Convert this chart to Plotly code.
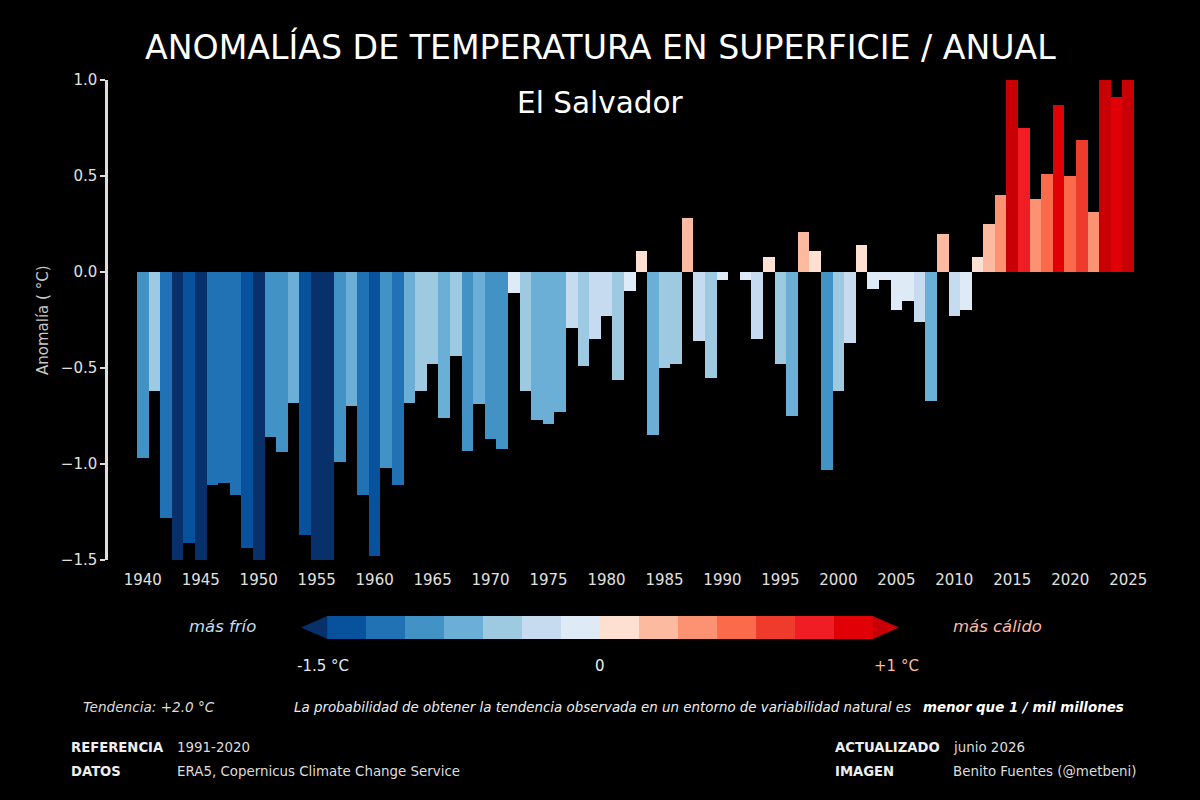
import plotly.graph_objects as go
import numpy as np

# ---------------- data ----------------
years = list(range(1940, 2026))
anomalies = [
    -0.97, -0.62, -1.28, -1.60, -1.41, -1.58, -1.11, -1.10, -1.16, -1.44,   # 1940-1949
    -1.55, -0.86, -0.94, -0.68, -1.37, -1.62, -1.57, -0.99, -0.70, -1.16,   # 1950-1959
    -1.48, -1.02, -1.11, -0.68, -0.62, -0.48, -0.76, -0.44, -0.93, -0.69,   # 1960-1969
    -0.87, -0.92, -0.11, -0.62, -0.77, -0.79, -0.73, -0.29, -0.49, -0.35,   # 1970-1979
    -0.23, -0.56, -0.10, 0.11, -0.85, -0.50, -0.48, 0.28, -0.36, -0.55,     # 1980-1989
    -0.04, 0.00, -0.04, -0.35, 0.08, -0.48, -0.75, 0.21, 0.11, -1.03,       # 1990-1999
    -0.62, -0.37, 0.14, -0.09, -0.04, -0.20, -0.15, -0.26, -0.67, 0.20,     # 2000-2009
    -0.23, -0.20, 0.08, 0.25, 0.40, 1.08, 0.75, 0.38, 0.51, 0.87,           # 2010-2019
    0.50, 0.69, 0.31, 1.12, 0.91, 1.05,                                      # 2020-2025
]
x_tick_years = list(range(1940, 2026, 5))
y_tick_vals = [-1.5, -1.0, -0.5, 0.0, 0.5, 1.0]
y_tick_text = ["\u22121.5", "\u22121.0", "\u22120.5", "0.0", "0.5", "1.0"]

scale_min, scale_max = -1.5, 1.0
bins_per_side = 7
neg_colors = ["#08519c", "#2171b5", "#4292c6", "#6baed6", "#9ecae1", "#c6dbef", "#deebf7"]
pos_colors = ["#fee0d2", "#fcbba1", "#fc9272", "#fb6a4a", "#ef3b2c", "#f01d24", "#e00006"]
under_color = "#08306b"
over_color = "#c80006"

# ---------------- helpers ----------------
W, H = 1200, 800
def px(x):
    return x / W
def py(y):
    return 1 - y / H

edges = list(np.linspace(scale_min, 0, bins_per_side + 1)) + list(np.linspace(0, scale_max, bins_per_side + 1))[1:]
all_colors = neg_colors + pos_colors

def color_for(v):
    if v < scale_min:
        return under_color
    if v > scale_max:
        return over_color
    for i in range(len(all_colors)):
        if edges[i] <= v < edges[i + 1]:
            return all_colors[i]
    return all_colors[-1]

bar_colors = [color_for(v) for v in anomalies]

FONT = "DejaVu Sans"
fig = go.Figure()

fig.add_trace(go.Bar(
    x=years, y=anomalies, width=1.0,
    marker=dict(color=bar_colors, line=dict(width=0)),
    xaxis="x", yaxis="y", showlegend=False, hoverinfo="x+y",
))

# colour scale (legend bar)
n_bins = len(all_colors)
ext = 0.675
fig.add_trace(go.Bar(
    x=[i + 0.5 for i in range(n_bins)], y=[1] * n_bins, width=1.0,
    marker=dict(color=all_colors, line=dict(width=0)),
    xaxis="x2", yaxis="y2", showlegend=False, hoverinfo="skip",
))
fig.add_trace(go.Scatter(
    x=[0, -ext, 0, 0], y=[0, 0.5, 1, 0], fill="toself", mode="lines",
    fillcolor=under_color, line=dict(width=0, color=under_color),
    xaxis="x2", yaxis="y2", showlegend=False, hoverinfo="skip",
))
fig.add_trace(go.Scatter(
    x=[n_bins, n_bins + ext, n_bins, n_bins], y=[0, 0.5, 1, 0], fill="toself", mode="lines",
    fillcolor=over_color, line=dict(width=0, color=over_color),
    xaxis="x2", yaxis="y2", showlegend=False, hoverinfo="skip",
))

annotations = []
def ann(text, x, y, size, color="#eeeeee", xanchor="center", yanchor="middle", **kw):
    annotations.append(dict(text=text, x=px(x), y=py(y), xref="paper", yref="paper",
                            xanchor=xanchor, yanchor=yanchor, showarrow=False,
                            font=dict(family=FONT, size=size, color=color), **kw))

ann("ANOMALÍAS DE TEMPERATURA EN SUPERFICIE / ANUAL", 600, 47, 33.2, "#ffffff")
ann("El Salvador", 600, 103, 29.5, "#ffffff")
ann("Anomalía ( °C)", 43, 320, 15, "#c8c8c8", textangle=-90)

ann("<i>más frío</i>", 222, 626, 16.5, "#c6dbef")
ann("<i>más cálido</i>", 997, 626, 16.5, "#fcbba1")
ann("-1.5 °C", 323, 666, 15, "#deebf7")
ann("0", 600, 666, 15, "#eeeeee")
ann("+1 °C", 896, 666, 15, "#fcbba1")

ann("<i>Tendencia: +2.0 °C</i>", 81, 707, 13.6, "#dddddd", xanchor="left")
ann("<i>La probabilidad de obtener la tendencia observada en un entorno de variabilidad natural es</i>",
    292, 707, 13.4, "#eeeeee", xanchor="left")
ann("<b><i>menor que 1 / mil millones</i></b>", 921, 707, 13.4, "#ffffff", xanchor="left")

ann("<b>REFERENCIA</b>", 69, 747, 13.2, "#eeeeee", xanchor="left")
ann("1991-2020", 175, 747, 13.4, "#dddddd", xanchor="left")
ann("<b>DATOS</b>", 69, 771, 13.2, "#eeeeee", xanchor="left")
ann("ERA5, Copernicus Climate Change Service", 175, 771, 13.4, "#dddddd", xanchor="left")
ann("<b>ACTUALIZADO</b>", 833, 747, 13.2, "#eeeeee", xanchor="left")
ann("junio 2026", 951, 747, 13.4, "#dddddd", xanchor="left")
ann("<b>IMAGEN</b>", 833, 771, 13.2, "#eeeeee", xanchor="left")
ann("Benito Fuentes (@metbeni)", 951, 771, 13.4, "#dddddd", xanchor="left")

fig.update_layout(
    width=W, height=H, autosize=False,
    margin=dict(l=0, r=0, t=0, b=0, pad=0, autoexpand=False),
    paper_bgcolor="#000000", plot_bgcolor="#000000",
    font=dict(family=FONT, color="#e0e0e0"),
    bargap=0,
    annotations=annotations,
    xaxis=dict(
        domain=[px(108), px(1163)], range=[1937, 2028], automargin=False,
        tickvals=x_tick_years, ticks="outside", ticklen=6, tickcolor="rgba(0,0,0,0)",
        tickfont=dict(size=15, color="#e0e0e0"),
        showline=False, showgrid=False, zeroline=False, fixedrange=True,
    ),
    yaxis=dict(
        domain=[py(560), py(80)], range=[scale_min, scale_max], automargin=False,
        tickvals=y_tick_vals, ticktext=y_tick_text,
        ticks="outside", ticklen=5, tickwidth=1.5, tickcolor="#dddddd",
        tickfont=dict(size=15, color="#e0e0e0"),
        showline=True, linecolor="#dddddd", linewidth=2.5,
        showgrid=False, zeroline=False, fixedrange=True,
    ),
    xaxis2=dict(
        domain=[px(301), px(899)], range=[-ext, n_bins + ext], anchor="y2",
        visible=False, fixedrange=True,
    ),
    yaxis2=dict(
        domain=[py(639), py(616)], range=[0, 1], anchor="x2",
        visible=False, fixedrange=True,
    ),
)

fig.write_html("out.html")
